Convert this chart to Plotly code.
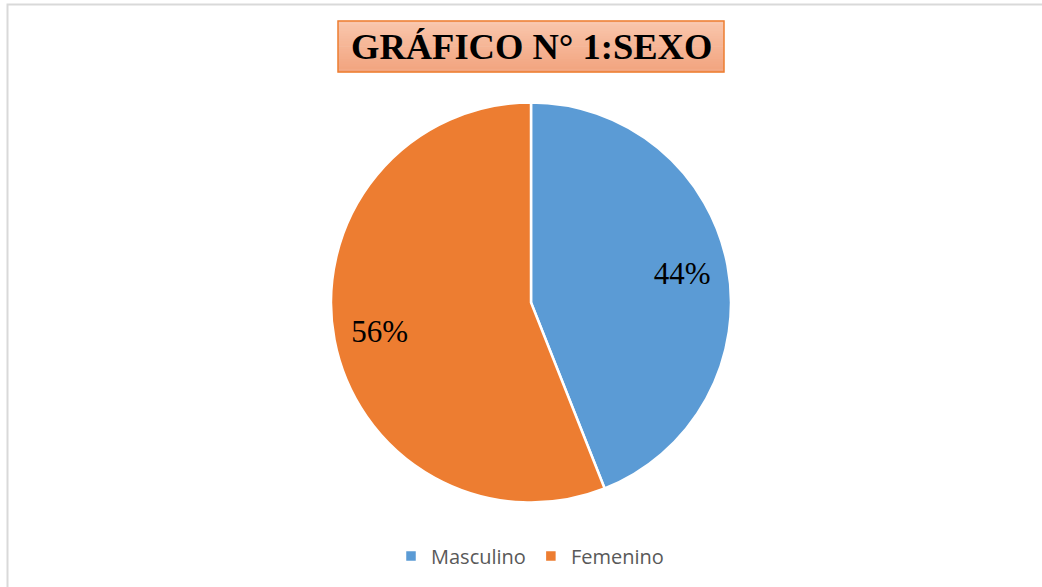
import plotly.graph_objects as go

categories = ["Masculino", "Femenino"]
values = [44, 56]
colors = ["#5B9BD5", "#ED7D31"]
title_text = "GRÁFICO N° 1:SEXO"

W, H = 1042, 587


def px(x):
    return x / W


def py(y):
    return 1 - y / H


dom = dict(x=[px(331), px(731)], y=[py(503), py(102)])

fig = go.Figure()
# the pie itself
fig.add_trace(go.Pie(
    labels=categories,
    values=values,
    marker=dict(colors=colors, line=dict(color="white", width=2.5)),
    sort=False,
    direction="clockwise",
    rotation=0,
    textinfo="none",
    domain=dom,
    hoverinfo="label+percent",
))
# transparent ring overlay that places the percent labels further out
fig.add_trace(go.Pie(
    labels=categories,
    values=values,
    hole=0.54,
    marker=dict(colors=["rgba(0,0,0,0)"] * len(values), line=dict(width=0)),
    sort=False,
    direction="clockwise",
    rotation=0,
    textinfo="percent",
    texttemplate="%{percent:.0%}",
    textposition="inside",
    insidetextorientation="horizontal",
    textfont=dict(family="Liberation Serif", size=31, color="black"),
    domain=dom,
    showlegend=False,
    hoverinfo="skip",
))

shapes = []
# chart border
shapes.append(dict(type="rect", xref="paper", yref="paper",
                   x0=px(7.5), x1=1.05, y0=-0.05, y1=py(4.5),
                   line=dict(color="#D9D9D9", width=2), fillcolor="rgba(0,0,0,0)", layer="below"))
# title box gradient
x0, x1, y0, y1 = 338, 724, 21, 72
n = 20
top = (249, 198, 172)
bot = (242, 164, 127)
for i in range(n):
    t = i / (n - 1)
    c = tuple(int(round(top[k] + (bot[k] - top[k]) * t)) for k in range(3))
    ya = y0 + (y1 - y0) * i / n
    yb = y0 + (y1 - y0) * (i + 1) / n
    shapes.append(dict(type="rect", xref="paper", yref="paper",
                       x0=px(x0), x1=px(x1), y0=py(yb) - 0.0005, y1=py(ya) + 0.0005,
                       line=dict(width=0), fillcolor="rgb(%d,%d,%d)" % c, layer="below"))
shapes.append(dict(type="rect", xref="paper", yref="paper",
                   x0=px(x0), x1=px(x1), y0=py(y1), y1=py(y0),
                   line=dict(color="#ED7D31", width=1.5), fillcolor="rgba(0,0,0,0)", layer="below"))

fig.update_layout(
    width=W, height=H,
    margin=dict(l=0, r=0, t=0, b=0),
    paper_bgcolor="white",
    plot_bgcolor="white",
    shapes=shapes,
    annotations=[dict(text="<b>" + title_text + "</b>", xref="paper", yref="paper",
                      x=px(531), y=py(47), xanchor="center", yanchor="middle",
                      showarrow=False,
                      font=dict(family="Liberation Serif", size=36.5, color="black"))],
    legend=dict(orientation="h", x=px(530), xanchor="center", y=py(556), yanchor="middle",
                font=dict(family="Open Sans", size=20, color="#595959"),
                itemwidth=30, traceorder="normal"),
    showlegend=True,
)

fig.write_html(
    "out.html",
    config={"displayModeBar": False},
    post_script="document.body.style.margin='0';document.body.style.overflow='hidden';",
)
